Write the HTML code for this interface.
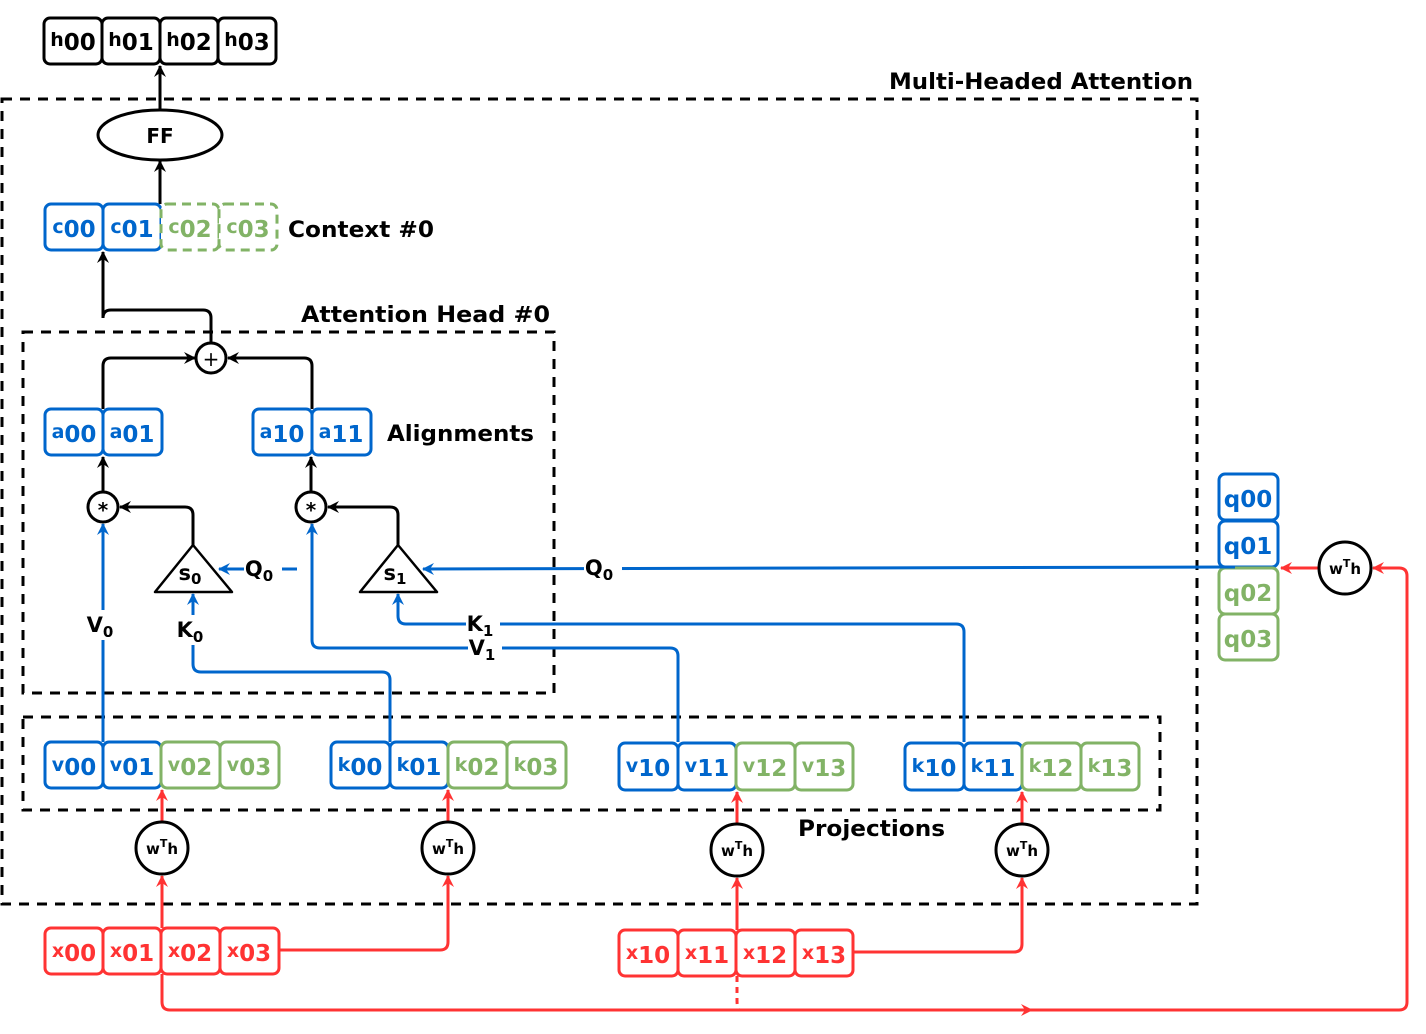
<!DOCTYPE html>
<html><head><meta charset="utf-8"><style>
html,body{margin:0;padding:0;background:#fff;width:1426px;height:1034px;overflow:hidden}
svg{display:block}
text{font-family:"DejaVu Sans","Liberation Sans",sans-serif;font-weight:bold}
</style></head><body>
<svg width="1426" height="1034" viewBox="0 0 1426 1034" xmlns="http://www.w3.org/2000/svg">
<defs>
<marker id="ak" viewBox="0 0 12 12" refX="11" refY="6" markerWidth="12" markerHeight="12" markerUnits="userSpaceOnUse" orient="auto"><path d="M0,0 L12,6 L0,12 L4,6 Z" fill="#000"/></marker>
<marker id="ab" viewBox="0 0 12 12" refX="11" refY="6" markerWidth="12" markerHeight="12" markerUnits="userSpaceOnUse" orient="auto"><path d="M0,0 L12,6 L0,12 L4,6 Z" fill="#0066CC"/></marker>
<marker id="ar" viewBox="0 0 12 12" refX="11" refY="6" markerWidth="12" markerHeight="12" markerUnits="userSpaceOnUse" orient="auto"><path d="M0,0 L12,6 L0,12 L4,6 Z" fill="#FF3333"/></marker>
</defs>

<!-- dashed containers -->
<g fill="none" stroke="#000" stroke-width="3" stroke-dasharray="10,8">
<rect x="2" y="99" width="1195" height="805"/>
<rect x="23" y="332" width="531" height="361"/>
<rect x="23" y="717" width="1137" height="93"/>
</g>

<!-- labels -->
<g font-size="22" fill="#000">
<text x="1193" y="89" text-anchor="end" textLength="304" lengthAdjust="spacingAndGlyphs">Multi-Headed Attention</text>
<text x="288" y="237" textLength="146" lengthAdjust="spacingAndGlyphs">Context #0</text>
<text x="550" y="322" text-anchor="end" textLength="249" lengthAdjust="spacingAndGlyphs">Attention Head  #0</text>
<text x="387" y="441" textLength="147" lengthAdjust="spacingAndGlyphs">Alignments</text>
<text x="798" y="836" textLength="147" lengthAdjust="spacingAndGlyphs">Projections</text>
</g>

<!-- black connectors -->
<g fill="none" stroke="#000" stroke-width="3">
<line x1="160" y1="110" x2="160" y2="66" marker-end="url(#ak)"/>
<line x1="160" y1="204" x2="160" y2="161" marker-end="url(#ak)"/>
<path d="M211,343 V318 Q211,310 203,310 H111 Q103,310 103,318 V252" marker-end="url(#ak)"/>
<path d="M103,409 V366 Q103,358 111,358 H195" marker-end="url(#ak)"/>
<path d="M312,409 V366 Q312,358 304,358 H228" marker-end="url(#ak)"/>
<line x1="103" y1="492" x2="103" y2="457" marker-end="url(#ak)"/>
<line x1="311" y1="492" x2="311" y2="457" marker-end="url(#ak)"/>
<path d="M193,545 V515 Q193,507 185,507 H120" marker-end="url(#ak)"/>
<path d="M398,545 V515 Q398,507 390,507 H328" marker-end="url(#ak)"/>
</g>

<!-- blue connectors -->
<g fill="none" stroke="#0066CC" stroke-width="3">
<line x1="103" y1="742" x2="103" y2="524" marker-end="url(#ab)"/>
<path d="M390,742 V680 Q390,672 382,672 H201 Q193,672 193,664 V594" marker-end="url(#ab)"/>
<line x1="297" y1="569" x2="219" y2="569" marker-end="url(#ab)"/>
<line x1="1235" y1="567" x2="423" y2="569" marker-end="url(#ab)"/>
<path d="M964,742 V632 Q964,624 956,624 H406 Q398,624 398,616 V594" marker-end="url(#ab)"/>
<path d="M678,742 V656 Q678,648 670,648 H320 Q312,648 312,640 V524" marker-end="url(#ab)"/>
</g>
<!-- connector labels -->
<g font-size="21" fill="#000" text-anchor="middle">
<rect x="86" y="610" width="36" height="30" fill="#fff"/>
<text x="100" y="632">V<tspan font-size="15" dy="5">0</tspan></text>
<rect x="176" y="615" width="36" height="30" fill="#fff"/>
<text x="190" y="637">K<tspan font-size="15" dy="5">0</tspan></text>
<rect x="244" y="555" width="38" height="28" fill="#fff"/>
<text x="259" y="576">Q<tspan font-size="15" dy="5">0</tspan></text>
<rect x="584" y="554" width="38" height="28" fill="#fff"/>
<text x="599" y="575">Q<tspan font-size="15" dy="5">0</tspan></text>
<rect x="466" y="612" width="34" height="24" fill="#fff"/>
<text x="480" y="631">K<tspan font-size="15" dy="5">1</tspan></text>
<rect x="468" y="637" width="34" height="24" fill="#fff"/>
<text x="482" y="655">V<tspan font-size="15" dy="5">1</tspan></text>
</g>

<!-- red connectors -->
<g fill="none" stroke="#FF3333" stroke-width="3">
<line x1="162" y1="822" x2="162" y2="790" marker-end="url(#ar)"/>
<line x1="162" y1="928" x2="162" y2="876" marker-end="url(#ar)"/>
<path d="M279,950 H440 Q448,950 448,942 V876" marker-end="url(#ar)"/>
<line x1="448" y1="822" x2="448" y2="790" marker-end="url(#ar)"/>
<line x1="737" y1="824" x2="737" y2="792" marker-end="url(#ar)"/>
<line x1="737" y1="930" x2="737" y2="878" marker-end="url(#ar)"/>
<path d="M853,952 H1014 Q1022,952 1022,944 V878" marker-end="url(#ar)"/>
<line x1="1022" y1="824" x2="1022" y2="792" marker-end="url(#ar)"/>
<path d="M162,974 V1002 Q162,1010 170,1010 H1032" marker-end="url(#ar)"/>
<path d="M1030,1010 H1399 Q1407,1010 1407,1002 V576 Q1407,568 1399,568 H1373" marker-end="url(#ar)"/>
<line x1="1319" y1="568" x2="1281" y2="568" marker-end="url(#ar)"/>
<path d="M737,976 V1000 Q737,1008 739,1010" stroke-dasharray="6,5"/>
</g>

<!-- shapes -->
<g fill="#fff" stroke="#000" stroke-width="3">
<ellipse cx="160" cy="135" rx="62" ry="25"/>
<circle cx="211" cy="358" r="15"/>
<circle cx="103" cy="507" r="15"/>
<circle cx="311" cy="507" r="15"/>
<path d="M193,545 L232,592 H155 Z" stroke-width="2.5" stroke-linejoin="round"/>
<path d="M398,545 L437,592 H360 Z" stroke-width="2.5" stroke-linejoin="round"/>
<circle cx="162" cy="848" r="26"/>
<circle cx="448" cy="848" r="26"/>
<circle cx="737" cy="850" r="26"/>
<circle cx="1022" cy="850" r="26"/>
<circle cx="1345" cy="568" r="26"/>
</g>
<g fill="#000" text-anchor="middle">
<text x="160" y="143" font-size="20" font-weight="normal">FF</text>
<text x="211" y="366" font-size="20" style="font-weight:normal">+</text>
<text x="103" y="517" font-size="20">*</text>
<text x="311" y="517" font-size="20">*</text>
<text x="190" y="580" font-size="21">s<tspan font-size="15" dy="4">0</tspan></text>
<text x="395" y="580" font-size="21">s<tspan font-size="15" dy="4">1</tspan></text>
<g font-size="15">
<text x="162" y="854">w<tspan font-size="11" dy="-7">T</tspan><tspan dy="7">h</tspan></text>
<text x="448" y="854">w<tspan font-size="11" dy="-7">T</tspan><tspan dy="7">h</tspan></text>
<text x="737" y="856">w<tspan font-size="11" dy="-7">T</tspan><tspan dy="7">h</tspan></text>
<text x="1022" y="856">w<tspan font-size="11" dy="-7">T</tspan><tspan dy="7">h</tspan></text>
<text x="1345" y="574">w<tspan font-size="11" dy="-7">T</tspan><tspan dy="7">h</tspan></text>
</g>
</g>

<!-- cells -->
<g stroke-width="3" fill="#fff">
<!-- h -->
<g stroke="#000"><rect x="44" y="18" width="58" height="46" rx="6"/><rect x="102" y="18" width="58" height="46" rx="6"/><rect x="160" y="18" width="58" height="46" rx="6"/><rect x="218" y="18" width="58" height="46" rx="6"/></g>
<!-- c -->
<g stroke="#0066CC"><rect x="45" y="204" width="58" height="46" rx="6"/><rect x="103" y="204" width="58" height="46" rx="6"/></g>
<g stroke="#82B366" stroke-dasharray="9,6"><rect x="161" y="204" width="58" height="46" rx="6"/><rect x="219" y="204" width="58" height="46" rx="6"/></g>
<!-- a -->
<g stroke="#0066CC"><rect x="45" y="409" width="58" height="46" rx="6"/><rect x="103" y="409" width="59" height="46" rx="6"/><rect x="253" y="409" width="59" height="46" rx="6"/><rect x="312" y="409" width="59" height="46" rx="6"/></g>
<!-- v0 k0 v1 k1 -->
<g stroke="#0066CC">
<rect x="45" y="742" width="58" height="46" rx="6"/><rect x="103" y="742" width="58" height="46" rx="6"/>
<rect x="331" y="742" width="59" height="46" rx="6"/><rect x="390" y="742" width="58" height="46" rx="6"/>
<rect x="619" y="743" width="59" height="47" rx="6"/><rect x="678" y="743" width="58" height="47" rx="6"/>
<rect x="905" y="743" width="59" height="47" rx="6"/><rect x="964" y="743" width="58" height="47" rx="6"/>
<rect x="1219" y="474" width="59" height="46" rx="6"/><rect x="1219" y="521" width="59" height="46" rx="6"/>
</g>
<g stroke="#82B366">
<rect x="161" y="742" width="59" height="46" rx="6"/><rect x="220" y="742" width="59" height="46" rx="6"/>
<rect x="448" y="742" width="59" height="46" rx="6"/><rect x="507" y="742" width="59" height="46" rx="6"/>
<rect x="736" y="743" width="59" height="47" rx="6"/><rect x="795" y="743" width="58" height="47" rx="6"/>
<rect x="1022" y="743" width="59" height="47" rx="6"/><rect x="1081" y="743" width="58" height="47" rx="6"/>
<rect x="1219" y="568" width="59" height="46" rx="6"/><rect x="1219" y="614" width="59" height="46" rx="6"/>
</g>
<g stroke="#FF3333">
<rect x="45" y="928" width="58" height="46" rx="6"/><rect x="103" y="928" width="58" height="46" rx="6"/><rect x="161" y="928" width="59" height="46" rx="6"/><rect x="220" y="928" width="59" height="46" rx="6"/>
<rect x="619" y="930" width="59" height="46" rx="6"/><rect x="678" y="930" width="58" height="46" rx="6"/><rect x="736" y="930" width="59" height="46" rx="6"/><rect x="795" y="930" width="58" height="46" rx="6"/>
</g>
</g>
<!-- redraw Q line overlap over q boxes -->
<line x1="1219" y1="567" x2="1235" y2="567" stroke="#0066CC" stroke-width="3"/>

<!-- cell labels -->
<g text-anchor="middle" font-size="23">
<g fill="#000">
<text x="73" y="50"><tspan font-size="19" dy="-4">h</tspan><tspan dy="4">00</tspan></text>
<text x="131" y="50"><tspan font-size="19" dy="-4">h</tspan><tspan dy="4">01</tspan></text>
<text x="189" y="50"><tspan font-size="19" dy="-4">h</tspan><tspan dy="4">02</tspan></text>
<text x="247" y="50"><tspan font-size="19" dy="-4">h</tspan><tspan dy="4">03</tspan></text>
</g>
<g fill="#0066CC">
<text x="74" y="237"><tspan font-size="19" dy="-4">c</tspan><tspan dy="4">00</tspan></text>
<text x="132" y="237"><tspan font-size="19" dy="-4">c</tspan><tspan dy="4">01</tspan></text>
<text x="74" y="442"><tspan font-size="19" dy="-4">a</tspan><tspan dy="4">00</tspan></text>
<text x="132" y="442"><tspan font-size="19" dy="-4">a</tspan><tspan dy="4">01</tspan></text>
<text x="282" y="442"><tspan font-size="19" dy="-4">a</tspan><tspan dy="4">10</tspan></text>
<text x="341" y="442"><tspan font-size="19" dy="-4">a</tspan><tspan dy="4">11</tspan></text>
<text x="74" y="775"><tspan font-size="19" dy="-4">v</tspan><tspan dy="4">00</tspan></text>
<text x="132" y="775"><tspan font-size="19" dy="-4">v</tspan><tspan dy="4">01</tspan></text>
<text x="360" y="775"><tspan font-size="19" dy="-4">k</tspan><tspan dy="4">00</tspan></text>
<text x="419" y="775"><tspan font-size="19" dy="-4">k</tspan><tspan dy="4">01</tspan></text>
<text x="648" y="776"><tspan font-size="19" dy="-4">v</tspan><tspan dy="4">10</tspan></text>
<text x="707" y="776"><tspan font-size="19" dy="-4">v</tspan><tspan dy="4">11</tspan></text>
<text x="934" y="776"><tspan font-size="19" dy="-4">k</tspan><tspan dy="4">10</tspan></text>
<text x="993" y="776"><tspan font-size="19" dy="-4">k</tspan><tspan dy="4">11</tspan></text>
<text x="1248" y="507">q00</text>
<text x="1248" y="554">q01</text>
</g>
<g fill="#82B366">
<text x="190" y="237"><tspan font-size="19" dy="-4">c</tspan><tspan dy="4">02</tspan></text>
<text x="248" y="237"><tspan font-size="19" dy="-4">c</tspan><tspan dy="4">03</tspan></text>
<text x="190" y="775"><tspan font-size="19" dy="-4">v</tspan><tspan dy="4">02</tspan></text>
<text x="249" y="775"><tspan font-size="19" dy="-4">v</tspan><tspan dy="4">03</tspan></text>
<text x="477" y="775"><tspan font-size="19" dy="-4">k</tspan><tspan dy="4">02</tspan></text>
<text x="536" y="775"><tspan font-size="19" dy="-4">k</tspan><tspan dy="4">03</tspan></text>
<text x="765" y="776"><tspan font-size="19" dy="-4">v</tspan><tspan dy="4">12</tspan></text>
<text x="824" y="776"><tspan font-size="19" dy="-4">v</tspan><tspan dy="4">13</tspan></text>
<text x="1051" y="776"><tspan font-size="19" dy="-4">k</tspan><tspan dy="4">12</tspan></text>
<text x="1110" y="776"><tspan font-size="19" dy="-4">k</tspan><tspan dy="4">13</tspan></text>
<text x="1248" y="601">q02</text>
<text x="1248" y="647">q03</text>
</g>
<g fill="#FF3333">
<text x="74" y="961"><tspan font-size="19" dy="-4">x</tspan><tspan dy="4">00</tspan></text>
<text x="132" y="961"><tspan font-size="19" dy="-4">x</tspan><tspan dy="4">01</tspan></text>
<text x="190" y="961"><tspan font-size="19" dy="-4">x</tspan><tspan dy="4">02</tspan></text>
<text x="249" y="961"><tspan font-size="19" dy="-4">x</tspan><tspan dy="4">03</tspan></text>
<text x="648" y="963"><tspan font-size="19" dy="-4">x</tspan><tspan dy="4">10</tspan></text>
<text x="707" y="963"><tspan font-size="19" dy="-4">x</tspan><tspan dy="4">11</tspan></text>
<text x="765" y="963"><tspan font-size="19" dy="-4">x</tspan><tspan dy="4">12</tspan></text>
<text x="824" y="963"><tspan font-size="19" dy="-4">x</tspan><tspan dy="4">13</tspan></text>
</g>
</g>
</svg>
</body></html>
